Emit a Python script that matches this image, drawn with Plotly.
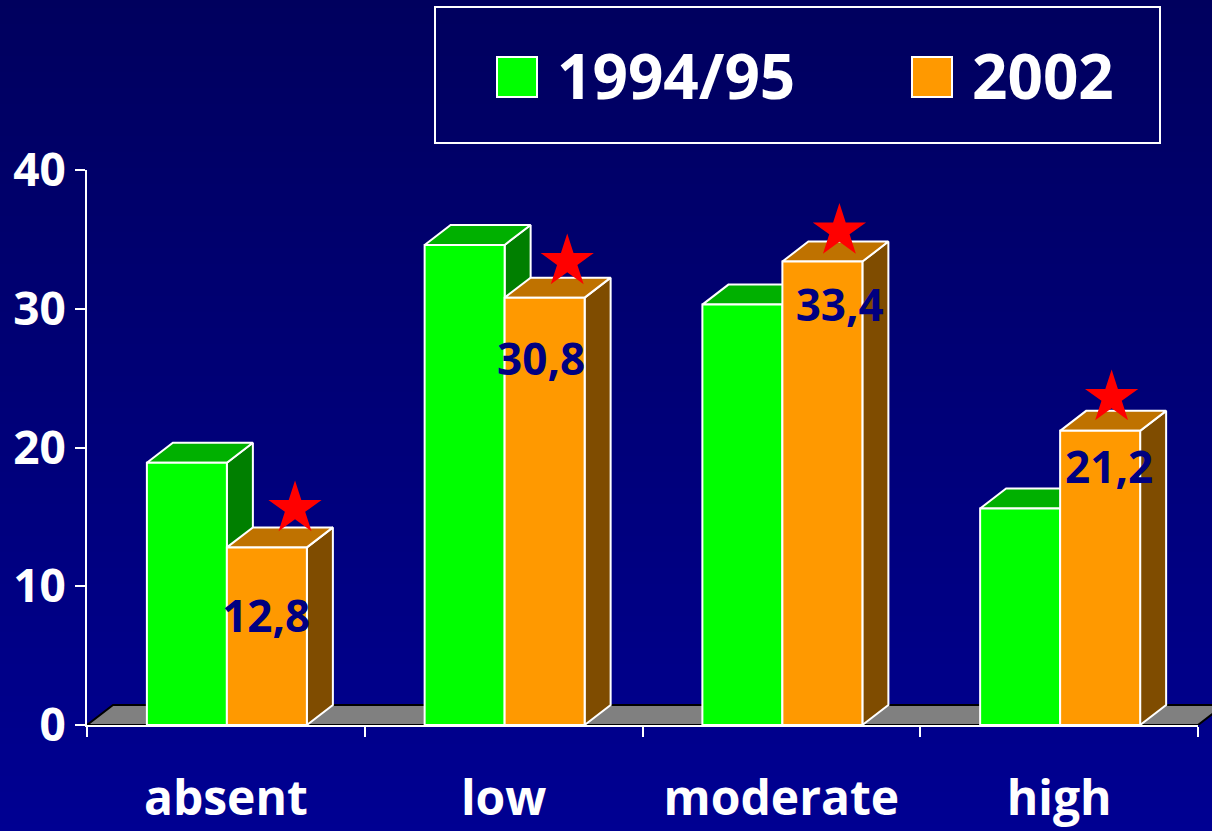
import plotly.graph_objects as go

# Data
categories = ["absent", "low", "moderate", "high"]
values_1994 = [18.9, 34.6, 30.3, 15.6]
values_2002 = [12.8, 30.8, 33.4, 21.2]
series_names = ["1994/95", "2002"]
y_ticks = [0, 10, 20, 30, 40]
x_ticks = [0, 1, 2, 3, 4]
# Stars and value labels were placed by hand in the original slide
star_x = [0.749, 1.729, 2.709, 3.689]
star_y = [15.6, 33.4, 35.6, 23.6]
label_x = [0.645, 1.635, 2.71, 3.68]
label_y = [7.5, 26.0, 29.9, 18.2]

# Geometry, from the pixel positions in the picture
W, H = 1212, 831
X0, X4 = 87, 1198
Y0, Y40 = 725, 170
px_x = (X4 - X0) / 4
px_y = (Y0 - Y40) / 40
BAR_W = 80 / px_x
BAR_MID = 0.5 + 1 / px_x
DX = 26 / px_x
DY = 20 / px_y
FONT = "Open Sans"

GREEN, GREEN_TOP, GREEN_SIDE = "#00ff00", "#00b000", "#007f00"
ORANGE, ORANGE_TOP, ORANGE_SIDE = "#ff9900", "#bf7200", "#7f4c00"


# Side and top faces of a row of bars, as one path each
def faces(values, left_offset):
    side_x, side_y, top_x, top_y = [], [], [], []
    for i, v in enumerate(values):
        l = i + BAR_MID + left_offset
        r = l + BAR_W
        side_x += [r, r + DX, r + DX, r, r, None]
        side_y += [0, DY, v + DY, v, 0, None]
        top_x += [l, l + DX, r + DX, r, l, None]
        top_y += [v, v + DY, v + DY, v, v, None]
    return side_x, side_y, top_x, top_y


def polygon(x, y, color, line="white"):
    return go.Scatter(
        x=x, y=y, mode="lines", fill="toself", fillcolor=color,
        line=dict(color=line, width=2), hoverinfo="skip", showlegend=False,
        xaxis="x2", yaxis="y2",
    )


fig = go.Figure()

# Background gradient
fig.add_trace(
    go.Heatmap(
        x=[0, 1], y=[0, 1], z=[[1, 1], [0, 0]], zsmooth="best", showscale=False,
        colorscale=[[0, "#00005e"], [1, "#000092"]], hoverinfo="skip",
    )
)

# Floor
fig.add_trace(
    polygon(
        [0, DX, 4 + DX, 4, 0], [0, DY, DY, 0, 0], "#808080", line="black",
    )
)

# Depth faces, green first so orange sits in front of it
gs_x, gs_y, gt_x, gt_y = faces(values_1994, -BAR_W)
os_x, os_y, ot_x, ot_y = faces(values_2002, 0)
fig.add_trace(polygon(gs_x, gs_y, GREEN_SIDE))
fig.add_trace(polygon(gt_x, gt_y, GREEN_TOP))
fig.add_trace(polygon(os_x, os_y, ORANGE_SIDE))
fig.add_trace(polygon(ot_x, ot_y, ORANGE_TOP))

# Stars
fig.add_trace(
    go.Scatter(
        x=star_x, y=star_y, mode="markers", xaxis="x2", yaxis="y2",
        marker=dict(symbol="star", size=40, color="#ff0000", line=dict(width=0)),
        showlegend=False, hoverinfo="skip",
    )
)

# Front faces
for name, vals, color, off in [
    (series_names[0], values_1994, GREEN, -BAR_W / 2),
    (series_names[1], values_2002, ORANGE, BAR_W / 2),
]:
    fig.add_trace(
        go.Bar(
            x=[i + BAR_MID + off for i in range(len(vals))], y=vals, width=BAR_W, name=name,
            marker=dict(color=color, line=dict(color="white", width=2)),
            xaxis="x3", yaxis="y3", showlegend=False,
        )
    )

# Value labels
fig.add_trace(
    go.Scatter(
        x=label_x, y=label_y, mode="text", xaxis="x3", yaxis="y3",
        text=[str(v).replace(".", ",") for v in values_2002],
        textfont=dict(family=FONT, size=44, color="#000080", weight=700),
        cliponaxis=False, showlegend=False, hoverinfo="skip",
    )
)

axis_off = dict(visible=False, fixedrange=True, automargin=False)
dom_x = [X0 / W, X4 / W]
dom_y = [(H - Y0) / H, (H - Y40) / H]

fig.update_layout(
    width=W, height=H, margin=dict(l=0, r=0, t=0, b=0),
    paper_bgcolor="#000080", plot_bgcolor="rgba(0,0,0,0)", barmode="overlay",
    xaxis=dict(domain=[0, 1], range=[0, 1], **axis_off),
    yaxis=dict(domain=[0, 1], range=[0, 1], **axis_off),
    xaxis2=dict(domain=[X0 / W, 1], range=[0, (W - X0) / px_x], anchor="y2", **axis_off),
    yaxis2=dict(domain=dom_y, range=[0, 40], anchor="x2", **axis_off),
    xaxis3=dict(
        domain=dom_x, range=[0, 4], anchor="y3", automargin=False,
        tickvals=[t + 0.5 for t in x_ticks[:-1]], ticktext=categories,
        ticks="outside", ticklen=0, ticklabelstandoff=30,
        tickfont=dict(family=FONT, size=48, color="white", weight=700),
        minor=dict(tickvals=x_ticks, ticks="outside", ticklen=10, tickwidth=2, tickcolor="white"),
        showline=True, linecolor="white", linewidth=2, showgrid=False, zeroline=False,
    ),
    yaxis3=dict(
        domain=dom_y, range=[0, 40], anchor="x3", automargin=False, tickvals=y_ticks,
        ticks="outside", ticklen=10, tickwidth=2, tickcolor="white",
        tickfont=dict(family=FONT, size=46, color="white", weight=700),
        showline=True, linecolor="white", linewidth=2, showgrid=False, zeroline=False,
    ),
)

# Legend box, drawn by hand because the swatches are far larger than plotly's
box = [435, 7, 1160, 143]
swatches = [(497, GREEN), (912, ORANGE)]
legend_text_x = [555, 970]


def paper_rect(x0, y0, x1, y1, fill, width):
    fig.add_shape(
        type="rect", xref="paper", yref="paper",
        x0=x0 / W, x1=x1 / W, y0=1 - y0 / H, y1=1 - y1 / H,
        fillcolor=fill, line=dict(color="white", width=width),
    )


paper_rect(*box, "rgba(0,0,0,0)", 2)
for (sx, color), tx, name in zip(swatches, legend_text_x, series_names):
    paper_rect(sx, 57, sx + 40, 97, color, 2)
    fig.add_annotation(
        x=tx / W, y=1 - 75 / H, xref="paper", yref="paper", xanchor="left", yanchor="middle",
        text=name, showarrow=False,
        font=dict(family=FONT, size=62, color="white", weight=700),
    )

fig.write_html("out.html", post_script="document.body.style.margin='0';", config=dict(displayModeBar=False))
